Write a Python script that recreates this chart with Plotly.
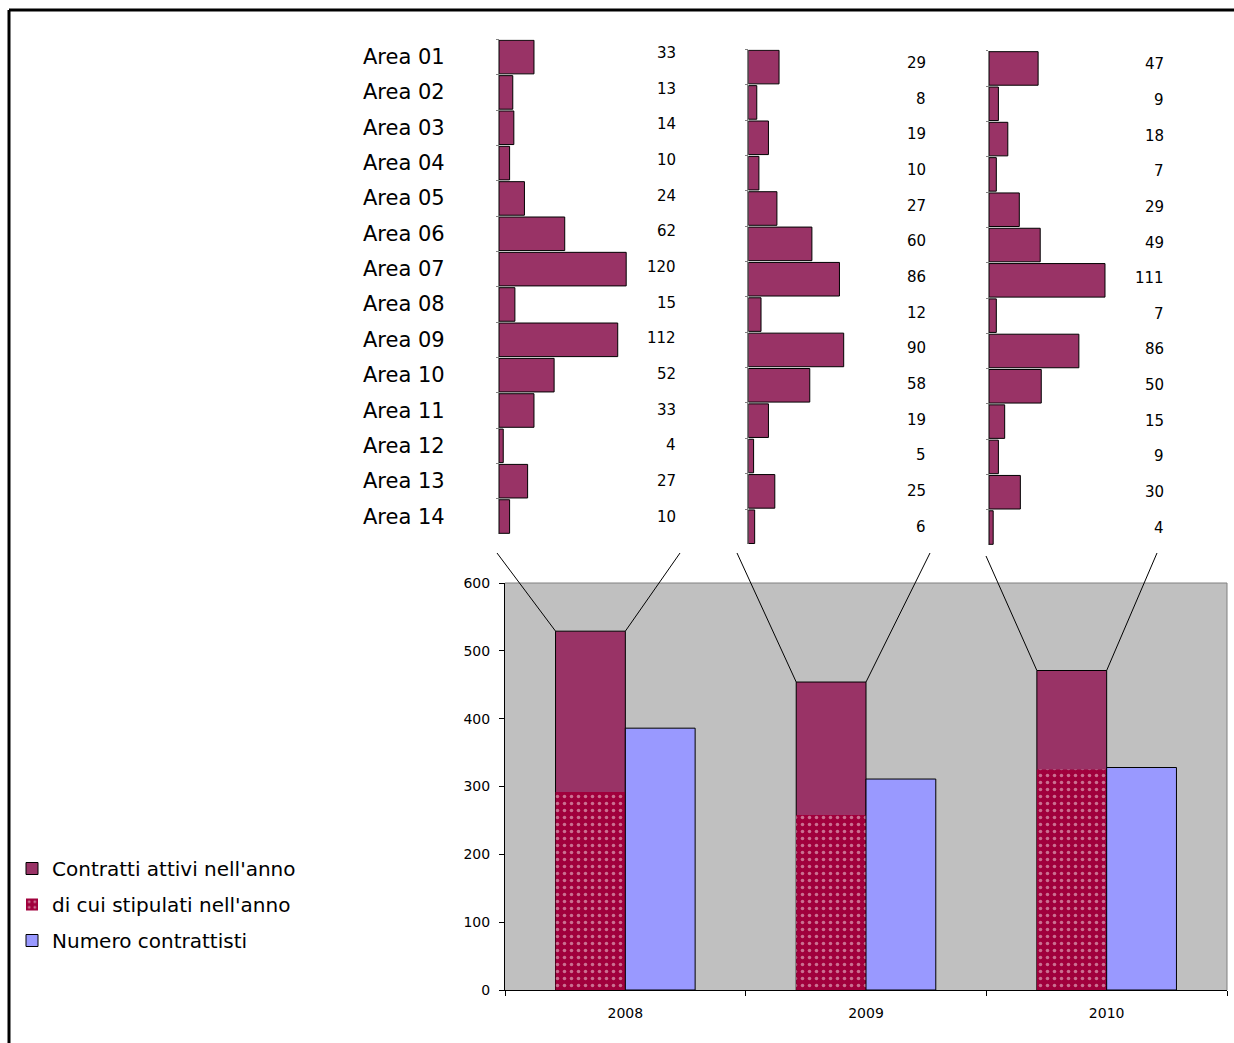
import plotly.graph_objects as go

# ---- data -------------------------------------------------------------
years = ["2008", "2009", "2010"]
areas = ["Area 01", "Area 02", "Area 03", "Area 04", "Area 05", "Area 06", "Area 07",
         "Area 08", "Area 09", "Area 10", "Area 11", "Area 12", "Area 13", "Area 14"]

area_2008 = [33, 13, 14, 10, 24, 62, 120, 15, 112, 52, 33, 4, 27, 10]
area_2009 = [29, 8, 19, 10, 27, 60, 86, 12, 90, 58, 19, 5, 25, 6]
area_2010 = [47, 9, 18, 7, 29, 49, 111, 7, 86, 50, 15, 9, 30, 4]

contratti_attivi = [529, 454, 471]
stipulati = [292, 258, 325]
contrattisti = [386, 311, 328]

y_ticks = [0, 100, 200, 300, 400, 500, 600]

# ---- layout geometry (pixels) -----------------------------------------
W, H = 1234, 1043
FONT = "DejaVu Sans"
C_ATTIVI = "#993366"
C_STIP = "#A0003C"
C_NUM = "#9999FF"


def fx(px):
    return px / W


def fy(py):
    return 1 - py / H


# main chart plot area
MX0, MX1 = 505, 1227
MY0, MY1 = 990, 583          # bottom (0) and top (600)
Y_MAX = 600
BAR_W = 0.29

# detail panels: origin x, top y, bottom y, pixels per unit
PANELS = [
    (499.0, 39.4, 534.2, 1.06),
    (748.3, 49.4, 544.4, 1.06),
    (989.0, 50.8, 545.2, 1.045),
]
PANEL_RANGE = 130
LABEL_RIGHT = [678, 928, 1166]
CONNECT_TOPS = [((497, 553), (680, 553)),
                ((737, 553), (930, 553)),
                ((986, 556), (1157, 553))]


def main_x_px(v):
    return MX0 + (v + 0.5) * (MX1 - MX0) / len(years)


def main_y_px(v):
    return MY0 - v * (MY0 - MY1) / Y_MAX


fig = go.Figure()

# ---- main chart -------------------------------------------------------
fig.add_trace(go.Bar(
    x=years, y=contratti_attivi, width=BAR_W, offset=-BAR_W,
    name="Contratti attivi nell'anno",
    marker=dict(color=C_ATTIVI, line=dict(color="black", width=1)),
    legendgroup="a",
))
fig.add_trace(go.Bar(
    x=years, y=stipulati, width=BAR_W, offset=-BAR_W,
    name="di cui stipulati nell'anno",
    marker=dict(color=C_STIP, line=dict(width=0),
                pattern=dict(shape=".", fgcolor="#F6E0E6", bgcolor=C_STIP,
                             size=7, solidity=0.2, fillmode="overlay")),
    legendgroup="b",
))
fig.add_trace(go.Bar(
    x=years, y=contrattisti, width=BAR_W, offset=0,
    name="Numero contrattisti",
    marker=dict(color=C_NUM, line=dict(color="black", width=1)),
    legendgroup="c",
))

# ---- detail panels ----------------------------------------------------
panel_data = [area_2008, area_2009, area_2010]
for k, vals in enumerate(panel_data):
    n = k + 2
    fig.add_trace(go.Bar(
        x=vals, y=areas, orientation="h", width=0.95,
        xaxis=f"x{n}", yaxis=f"y{n}", showlegend=False,
        marker=dict(color=C_ATTIVI, line=dict(color="black", width=1)),
    ))

layout_axes = {}
for k, (x0, ytop, ybot, ppu) in enumerate(PANELS):
    n = k + 2
    layout_axes[f"xaxis{n}"] = dict(
        domain=[fx(x0), fx(x0 + PANEL_RANGE * ppu)], range=[0, PANEL_RANGE],
        anchor=f"y{n}", visible=False, fixedrange=True, automargin=False,
    )
    layout_axes[f"yaxis{n}"] = dict(
        domain=[fy(ybot), fy(ytop)], anchor=f"x{n}", type="category",
        categoryorder="array", categoryarray=areas, range=[13.5, -0.5],
        showticklabels=False, showgrid=False, zeroline=False, automargin=False,
        showline=True, linecolor="#808080", linewidth=1,
        ticks="outside", ticklen=2, tickcolor="#808080", tickson="boundaries",
    )

annotations = []
# area names
for a in areas:
    annotations.append(dict(
        x=fx(447), xref="paper", xanchor="right", y=a, yref="y2",
        text=a, showarrow=False, font=dict(family=FONT, size=21, color="black"),
    ))
# value labels
for k, vals in enumerate(panel_data):
    n = k + 2
    for i, (a, v) in enumerate(zip(areas, vals)):
        annotations.append(dict(
            x=fx(LABEL_RIGHT[k]), xref="paper", xanchor="right", y=a, yref=f"y{n}",
            yshift=4 * (13 - i) / 13,
            text=str(v), showarrow=False, font=dict(family=FONT, size=15, color="black"),
        ))

shapes = []
# outer frame (top and left edges)
shapes.append(dict(type="line", xref="paper", yref="paper",
                   x0=fx(9), y0=fy(10), x1=fx(1240), y1=fy(10),
                   line=dict(color="black", width=3)))
shapes.append(dict(type="line", xref="paper", yref="paper",
                   x0=fx(9), y0=fy(10), x1=fx(9), y1=fy(1050),
                   line=dict(color="black", width=3)))
# grey plot area of the main chart
shapes.append(dict(type="rect", xref="paper", yref="paper", layer="below",
                   x0=fx(MX0), y0=fy(MY0), x1=fx(MX1), y1=fy(MY1),
                   fillcolor="#C0C0C0", line=dict(width=0)))
shapes.append(dict(type="line", xref="paper", yref="paper",
                   x0=fx(MX0), y0=fy(MY1), x1=fx(MX1), y1=fy(MY1),
                   line=dict(color="#808080", width=1)))
shapes.append(dict(type="line", xref="paper", yref="paper",
                   x0=fx(MX1), y0=fy(MY1), x1=fx(MX1), y1=fy(MY0),
                   line=dict(color="#808080", width=1)))
# connectors from each detail panel to the top of its yearly bar
for i, ((lt, rt), tot) in enumerate(zip(CONNECT_TOPS, contratti_attivi)):
    top_px = main_y_px(tot)
    left_px = main_x_px(i - BAR_W)
    right_px = main_x_px(i)
    shapes.append(dict(type="line", xref="paper", yref="paper",
                       x0=fx(lt[0]), y0=fy(lt[1]), x1=fx(left_px), y1=fy(top_px),
                       line=dict(color="black", width=1)))
    shapes.append(dict(type="line", xref="paper", yref="paper",
                       x0=fx(rt[0]), y0=fy(rt[1]), x1=fx(right_px), y1=fy(top_px),
                       line=dict(color="black", width=1)))

fig.update_layout(
    width=W, height=H, autosize=False,
    margin=dict(l=0, r=0, t=0, b=0, pad=0, autoexpand=False),
    paper_bgcolor="white", plot_bgcolor="rgba(0,0,0,0)",
    barmode="overlay",
    font=dict(family=FONT, color="black"),
    showlegend=True,
    legend=dict(x=fx(12), y=fy(849), xanchor="left", yanchor="top",
                font=dict(family=FONT, size=20, color="black"),
                bgcolor="rgba(0,0,0,0)", tracegroupgap=7, traceorder="grouped"),
    xaxis=dict(domain=[fx(MX0), fx(MX1)], type="category", tickson="boundaries",
               ticks="outside", ticklen=5, tickcolor="black",
               showline=True, linecolor="black", linewidth=1,
               showgrid=False, zeroline=False, fixedrange=True, automargin=False,
               ticklabelstandoff=10,
               tickfont=dict(family=FONT, size=14, color="black")),
    yaxis=dict(domain=[fy(MY0), fy(MY1)], range=[0, Y_MAX],
               tickmode="array", tickvals=y_ticks,
               ticks="outside", ticklen=5, tickcolor="black",
               showline=True, linecolor="black", linewidth=1,
               showgrid=False, zeroline=False, fixedrange=True, automargin=False,
               ticklabelstandoff=6,
               tickfont=dict(family=FONT, size=14, color="black")),
    annotations=annotations,
    shapes=shapes,
    **layout_axes,
)

fig.write_html("out.html")
